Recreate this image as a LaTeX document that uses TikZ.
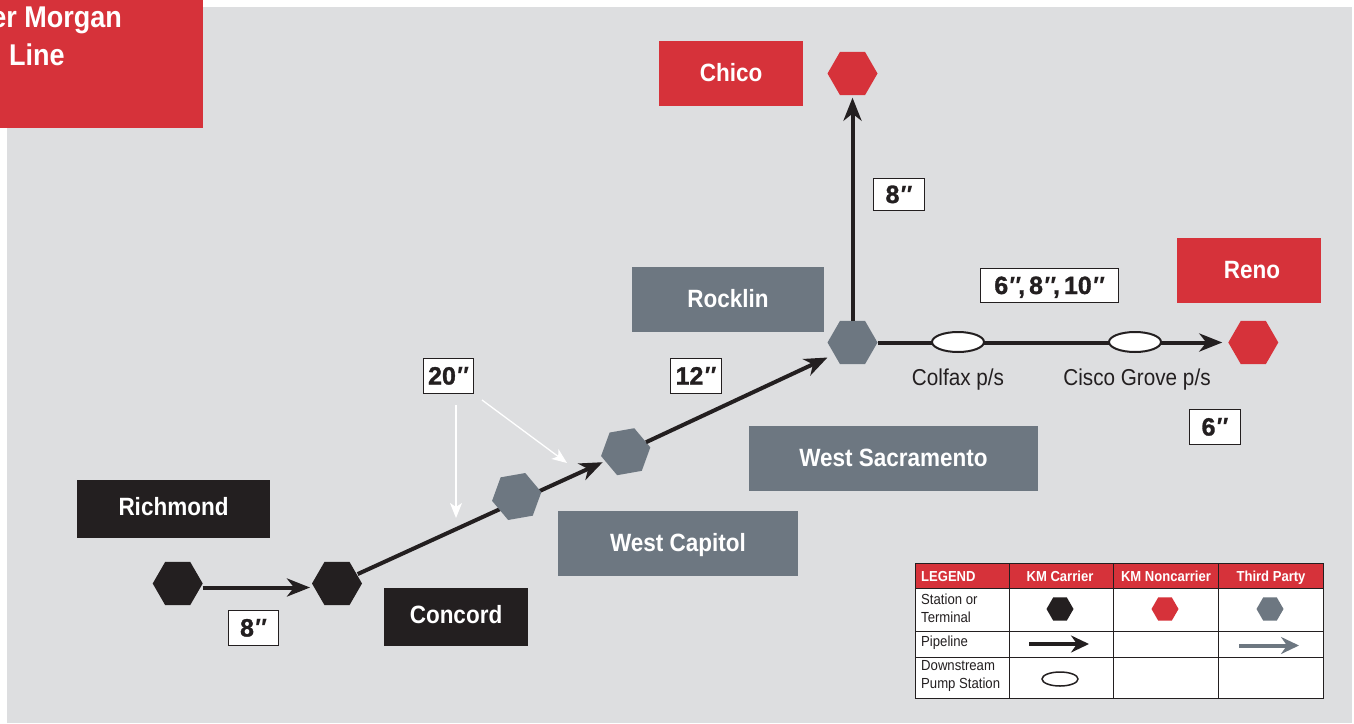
\documentclass[tikz,border=0pt]{standalone}
\usepackage{fontspec}
\setmainfont{Liberation Sans}
\newfontfamily\narrowfont[FakeStretch=0.9]{Liberation Sans}
\newfontfamily\heavyfont[UprightFont={* Bold},FakeBold=1.2]{Liberation Sans}
\usetikzlibrary{shapes.geometric,arrows.meta}
\definecolor{kmred}{HTML}{D6323A}
\definecolor{kmgray}{HTML}{6D7781}
\definecolor{kmblack}{HTML}{231F20}
\definecolor{kmbg}{HTML}{DDDEE0}
\tikzset{
  x=1pt,y=-1pt,
  hexa/.style={regular polygon,regular polygon sides=6,minimum size=50pt,inner sep=0pt,outer sep=0pt},
  hexb/.style={hexa,minimum size=27pt},
  hextilt/.style={hexa,shape border rotate=10},
  pipe/.style={draw=kmblack,line width=4pt,-{Stealth[length=23pt,width=18pt,inset=7pt]}},
  legpipe/.style={line width=4pt,-{Stealth[length=18pt,width=17pt,inset=6pt]}},
  note/.style={draw=white,line width=1.3pt,-{Stealth[length=15pt,width=12pt,inset=4pt]}},
  place/.style={font=\narrowfont\bfseries\fontsize{25}{25}\selectfont,text=white,inner sep=0pt,outer sep=0pt,text height=18pt,text depth=2pt},
  titletext/.style={font=\narrowfont\bfseries\fontsize{30}{30}\selectfont,text=white,inner sep=0pt},
  size/.style={draw=kmblack,line width=1pt,fill=white,text=kmblack,font=\heavyfont\fontsize{25}{25}\selectfont,inner sep=0pt,outer sep=0pt,text height=18pt,text depth=0pt},
  pump/.style={ellipse,draw=kmblack,fill=white,line width=2pt,minimum width=52pt,minimum height=20pt,inner sep=0pt,outer sep=0pt},
  caption/.style={font=\narrowfont\fontsize{23}{23}\selectfont,text=kmblack,inner sep=0pt},
  leghead/.style={font=\narrowfont\bfseries\fontsize{14.5}{14.5}\selectfont,text=white,inner sep=0pt,text height=11pt,text depth=0pt},
  legrow/.style={font=\narrowfont\fontsize{14.6}{18}\selectfont,text=kmblack,inner sep=0pt,align=left,anchor=west},
}
\newcommand{\placebox}[7]{% name, x1,y1,x2,y2, options, text
  \node[place,fill=#6,minimum width=#4pt-#2pt,minimum height=#5pt-#3pt] (#1) at ({(#2+#4)/2},{(#3+#5)/2}) {#7};}
\newcommand{\sizebox}[6]{% name, x1,y1,x2,y2, text
  \node[size,minimum width=#4pt-#2pt,minimum height=#5pt-#3pt] (#1) at ({(#2+#4)/2},{(#3+#5)/2}) {#6};}
\newcommand{\dq}{{\normalfont\bfseries\itshape\char"2033}}
\begin{document}
\begin{tikzpicture}
\useasboundingbox (0,0) rectangle (1354,723);
\fill[white] (0,0) rectangle (1354,723);
\fill[kmbg] (7,7) rectangle (1352,723);
% title
\placebox{title}{0}{0}{203}{128}{kmred}{}
\node[titletext,anchor=base east] (t1) at (122,27) {er Morgan};
\node[titletext,anchor=base west] (t2) at (9,65) {Line};
% labels
\placebox{chicol}{659}{41}{803}{106}{kmred}{Chico}
\placebox{renol}{1177}{238}{1321}{303}{kmred}{\hspace{6pt}Reno}
\placebox{rockl}{632}{267}{824}{332}{kmgray}{Rocklin}
\placebox{sacl}{749}{426}{1038}{491}{kmgray}{West Sacramento}
\placebox{capl}{558}{511}{798}{576}{kmgray}{West Capitol}
\placebox{richl}{77}{480}{270}{538}{kmblack,text depth=6pt}{Richmond}
\placebox{concl}{384}{588}{528}{646}{kmblack,text depth=6pt}{Concord}
% stations
\node[hexa,fill=kmblack] (rich) at (177.7,583.5) {};
\node[hexa,fill=kmblack] (conc) at (337,583.5) {};
\node[hextilt,fill=kmgray] (sac) at (625.7,451.7) {};
\node[hexa,fill=kmgray] (rock) at (852.5,342.5) {};
\node[hexa,fill=kmred] (chico) at (852.5,73.5) {};
\node[hexa,fill=kmred] (reno) at (1253.3,342.5) {};
% pipelines
\draw[pipe] ([shift={(0,4)}]rich.east) -- ([shift={(-2,4)}]conc.west);
\draw[pipe,shorten <=1pt] (conc) -- ([shift={(-23,10.5)}]sac.center);
\draw[pipe] (sac) -- ([shift={(-25,15)}]rock.center);
\draw[pipe,shorten >=2.5pt] (rock) -- (chico);
\draw[pipe,shorten >=6pt] (rock) -- (reno);
\node[hextilt,fill=kmgray] (cap) at (516.7,496.5) {};
\node[pump] (colfax) at (958,342) {};
\node[pump] (cisco) at (1135,342) {};
\node[caption] (colfaxl) at (958,380) {Colfax p/s};
\node[caption] (ciscol) at (1137,380) {Cisco Grove p/s};
% sizes
\sizebox{s1}{873}{178}{924}{210}{8\dq}
\sizebox{s2}{980}{268}{1118}{302}{6\dq\hspace{-2pt},\hspace{4pt}8\dq\hspace{-2pt},\hspace{4pt}10\dq}
\sizebox{s3}{1189}{409}{1240}{444}{6\dq}
\sizebox{s4}{423}{358}{473}{393}{20\dq}
\sizebox{s5}{670}{358}{721}{393}{12\dq}
\sizebox{s6}{228}{610}{278}{645}{8\dq}
% white pointers
\coordinate (n1a) at (456,405);
\coordinate (n1b) at (456,518);
\coordinate (n2a) at (482,400);
\coordinate (n2b) at (567,463);
\draw[note] (n1a) -- (n1b);
\draw[note] (n2a) -- (n2b);
% legend
\fill[white] (915,563) rectangle (1323,698);
\fill[kmred] (915,563) rectangle (1323,588);
\draw[kmblack,line width=1pt] (915,563) rectangle (1323,698)
  (915,588) -- (1323,588) (915,631) -- (1323,631) (915,657) -- (1323,657)
  (1009,563) -- (1009,698) (1113,563) -- (1113,698) (1218,563) -- (1218,698);
\node[leghead,anchor=west] (h0) at (921,575.5) {LEGEND};
\node[leghead] (h1) at (1060,575.5) {KM Carrier};
\node[leghead] (h2) at (1166,575.5) {KM Noncarrier};
\node[leghead] (h3) at (1271,575.5) {Third Party};
\node[legrow] (r1) at (921,608) {Station or\\Terminal};
\node[legrow] (r2) at (921,643) {Pipeline};
\node[legrow] (r3) at (921,676) {Downstream\\Pump Station};
\node[hexb,fill=kmblack] (lh1) at (1060,609) {};
\node[hexb,fill=kmred] (lh2) at (1165,609) {};
\node[hexb,fill=kmgray] (lh3) at (1270,609) {};
\coordinate (la1) at (1029,644);
\coordinate (la2) at (1089,644);
\coordinate (lb1) at (1239,645.5);
\coordinate (lb2) at (1299,645.5);
\draw[legpipe,draw=kmblack] (la1) -- (la2);
\draw[legpipe,draw=kmgray] (lb1) -- (lb2);
\node[pump,minimum width=36pt,minimum height=14pt,line width=1.5pt] (lp) at (1060,679) {};
\end{tikzpicture}
\end{document}
